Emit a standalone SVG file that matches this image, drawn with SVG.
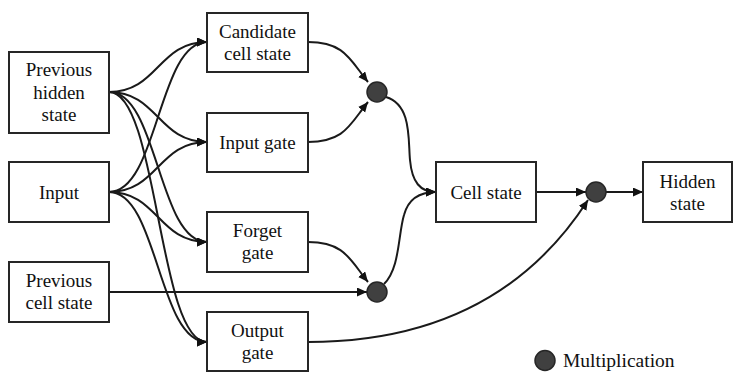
<svg xmlns="http://www.w3.org/2000/svg" width="734" height="372" viewBox="0 0 734 372" font-family="Liberation Serif, DejaVu Serif, serif">
<style>
.box{fill:#fff;stroke:#262626;stroke-width:2}
.t{font-size:19px;fill:#111;text-anchor:middle}
.lg{font-size:19.5px;fill:#111}
.e{fill:none;stroke:#1a1a1a;stroke-width:2}
.m{fill:#404040;stroke:#262626;stroke-width:1.5}
</style>
<defs>
<marker id="arr" markerUnits="userSpaceOnUse" markerWidth="11" markerHeight="10" refX="10" refY="4.5" orient="auto">
<path d="M0,0 L10,4.5 L0,9 z" fill="#111"/>
</marker>
</defs>
<g id="connectors">
<path class="e" marker-end="url(#arr)" d="M109,92 C158,92 158,42 207,42"/>
<path class="e" marker-end="url(#arr)" d="M109,92 C158,92 158,142 207,142"/>
<path class="e" marker-end="url(#arr)" d="M109,92 C158,92 158,242 207,242"/>
<path class="e" marker-end="url(#arr)" d="M109,92 C158,92 158,342 207,342"/>
<path class="e" marker-end="url(#arr)" d="M109,192 C158,192 158,42 207,42"/>
<path class="e" marker-end="url(#arr)" d="M109,192 C158,192 158,142 207,142"/>
<path class="e" marker-end="url(#arr)" d="M109,192 C158,192 158,242 207,242"/>
<path class="e" marker-end="url(#arr)" d="M109,192 C158,192 158,342 207,342"/>
<path class="e" marker-end="url(#arr)" d="M308,42 C345,42 350,60 368,82"/>
<path class="e" marker-end="url(#arr)" d="M308,142 C345,142 350,124 368,102"/>
<path class="e" marker-end="url(#arr)" d="M308,242 C345,242 350,260 368,282"/>
<path class="e" marker-end="url(#arr)" d="M109,292 L367,292"/>
<path class="e" marker-end="url(#arr)" d="M386,97 C412,105 408,140 410,160 C412,182 420,192 436,192"/>
<path class="e" marker-end="url(#arr)" d="M384,284 C400,268 398,235 404,215 C408,200 418,192 436,192"/>
<path class="e" marker-end="url(#arr)" d="M536,192 L586,192"/>
<path class="e" marker-end="url(#arr)" d="M308,342 C440,342 530,290 588,200"/>
<path class="e" marker-end="url(#arr)" d="M606,192 L643,192"/>
</g>
<g id="prev-hidden"><rect class="box" x="9" y="52" width="100" height="81"/><text class="t" x="59" y="76">Previous</text><text class="t" x="59" y="99">hidden</text><text class="t" x="59" y="121">state</text></g>
<g id="input"><rect class="box" x="9" y="162" width="100" height="60"/><text class="t" x="59" y="198.5">Input</text></g>
<g id="prev-cell"><rect class="box" x="9" y="262" width="100" height="60"/><text class="t" x="59" y="287">Previous</text><text class="t" x="59" y="309">cell state</text></g>
<g id="candidate"><rect class="box" x="207" y="13" width="101" height="59"/><text class="t" x="257.5" y="38">Candidate</text><text class="t" x="257.5" y="60">cell state</text></g>
<g id="input-gate"><rect class="box" x="207" y="113" width="101" height="59"/><text class="t" x="257.5" y="148.5">Input gate</text></g>
<g id="forget-gate"><rect class="box" x="207" y="212" width="101" height="60"/><text class="t" x="257.5" y="237">Forget</text><text class="t" x="257.5" y="259">gate</text></g>
<g id="output-gate"><rect class="box" x="207" y="312" width="101" height="59"/><text class="t" x="257.5" y="337">Output</text><text class="t" x="257.5" y="359">gate</text></g>
<g id="mult1"><circle class="m" cx="377" cy="92" r="10"/></g>
<g id="mult2"><circle class="m" cx="377" cy="292" r="10"/></g>
<g id="cell-state"><rect class="box" x="436" y="162" width="100" height="60"/><text class="t" x="486" y="198.5">Cell state</text></g>
<g id="mult3"><circle class="m" cx="596" cy="192" r="10"/></g>
<g id="hidden-state"><rect class="box" x="643" y="162" width="89" height="60"/><text class="t" x="687.5" y="188">Hidden</text><text class="t" x="687.5" y="210">state</text></g>
<g id="legend"><circle class="m" cx="545" cy="360.5" r="10"/><text class="lg" x="563" y="367">Multiplication</text></g>
</svg>
